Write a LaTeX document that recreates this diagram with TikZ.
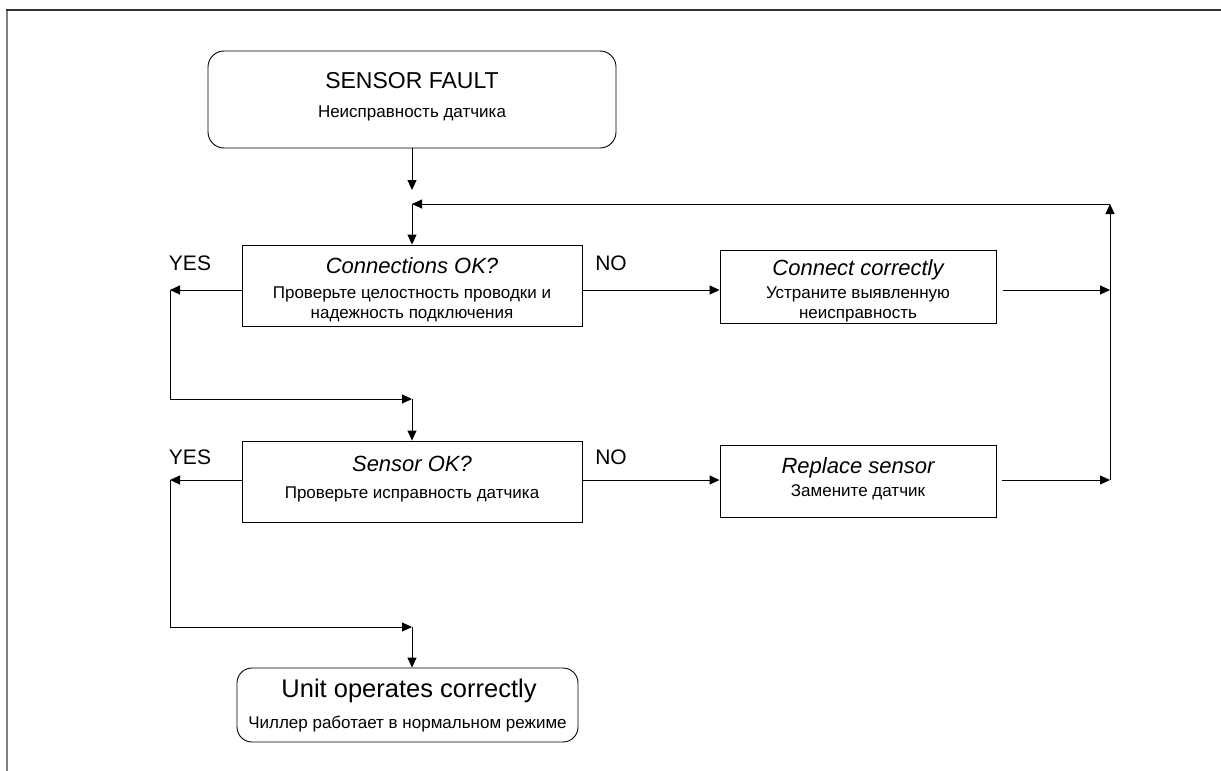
\documentclass[tikz,border=0pt]{standalone}
\usepackage{fontspec}
\setmainfont{Liberation Sans}
\usetikzlibrary{arrows.meta}
\begin{document}
\begin{tikzpicture}[x=1pt,y=-1pt,
 box/.style={draw, line width=0.9pt, inner sep=0pt},
 rbox/.style={box, rounded corners=16pt},
 lbl/.style={anchor=base, inner sep=0pt},
 ttl/.style={lbl, font=\fontsize{23}{27}\selectfont},
 hd/.style={lbl, font=\fontsize{22}{26}\selectfont\itshape},
 bd/.style={lbl, font=\fontsize{17}{20}\selectfont},
 yn/.style={lbl, font=\fontsize{21}{25}\selectfont},
 conn/.style={line width=0.9pt},
 arr/.style={conn, -{Triangle[length=10pt,width=9pt]}},
]
\useasboundingbox (0,0) rectangle (1221,771);
\draw[gray, line width=2pt] (7,771) -- (7,10);
\draw[black!80, line width=1.5pt] (6,10) -- (1221,10);

% boxes
\node[rbox, minimum width=408pt, minimum height=97pt] (start) at (412,99.5) {};
\node[box, minimum width=340pt, minimum height=81pt] (conn) at (412,285.5) {};
\node[box, minimum width=276pt, minimum height=73pt] (fix) at (858,286.5) {};
\node[box, minimum width=340pt, minimum height=81pt] (sens) at (412,481.5) {};
\node[box, minimum width=276pt, minimum height=72pt] (rep) at (858,481) {};
\node[rbox, rounded corners=15pt, minimum width=341pt, minimum height=74pt] (end) at (407.5,705) {};

% texts
\node[ttl] at (412,88) {SENSOR FAULT};
\node[bd] at (412,117) {Неисправность датчика};
\node[hd] at (412,273) {Connections OK?};
\node[bd] at (412,298) {Проверьте целостность проводки и};
\node[bd] at (412,318) {надежность подключения};
\node[hd] at (858,275) {Connect correctly};
\node[bd] at (858,298) {Устраните выявленную};
\node[bd] at (858,318) {неисправность};
\node[hd] at (412,471) {Sensor OK?};
\node[bd] at (412,498) {Проверьте исправность датчика};
\node[hd] at (858,473) {Replace sensor};
\node[bd] at (858,496) {Замените датчик};
\node[ttl, font=\fontsize{25.5}{30}\selectfont] at (409,697) {Unit operates correctly};
\node[bd] at (407.5,728) {Чиллер работает в нормальном режиме};
\node[yn] (yes1) at (190,270) {YES};
\node[yn] (no1) at (611,270) {NO};
\node[yn] (yes2) at (190,464) {YES};
\node[yn] (no2) at (611,464) {NO};

% coordinates
\coordinate (t1) at (412,190);
\coordinate (j1) at (412,204);
\coordinate (r1) at (1110,204);
\coordinate (y1) at (0,290);
\coordinate (y2) at (0,480);
\coordinate (cy) at (170,290);
\coordinate (c2) at (412,399);
\coordinate (sy) at (170,480);
\coordinate (c3) at (412,627);
\coordinate (v1) at (1110,290);
\coordinate (v2) at (1110,480);

% connectors
\draw[arr] (start.south) -- (t1);
\draw[arr] (r1) -- (j1);
\draw[arr] (j1) -- (conn.north);
\draw[arr] (conn.west |- y1) -- (cy);
\draw[arr] (cy) |- (c2);
\draw[arr] (c2) -- (sens.north);
\draw[arr] (conn.east |- y1) -- (fix.west |- y1);
\draw[arr, shorten <=7pt] (fix.east |- y1) -- (v1);
\draw[arr] (sens.west |- y2) -- (sy);
\draw[arr] (sy) |- (c3);
\draw[arr] (c3) -- (c3 |- end.north);
\draw[arr] (sens.east |- y2) -- (rep.west |- y2);
\draw[arr, shorten <=6pt] (rep.east |- y2) -- (v2);
\draw[arr] (v2) -- (r1);
\end{tikzpicture}
\end{document}
